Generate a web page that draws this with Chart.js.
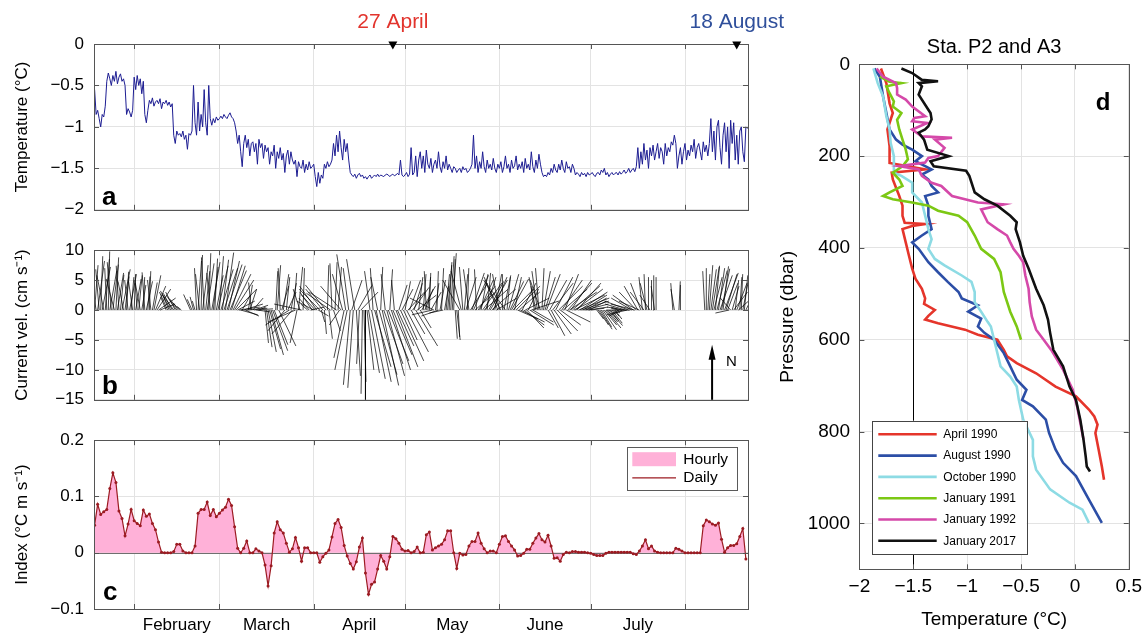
<!DOCTYPE html>
<html>
<head>
<meta charset="utf-8">
<title>Mooring record and hydrographic profiles</title>
<script src="https://cdn.jsdelivr.net/npm/chart.js@4.4.1/dist/chart.umd.min.js"></script>
<style>
  html, body { margin: 0; padding: 0; background: #fff; }
  #page { position: relative; width: 1148px; height: 635px; overflow: hidden; background: #fff; }
  canvas { position: absolute; }
</style>
</head>
<body>
<div id="page">
  <canvas id="tempChart" width="800" height="230" style="left:0;top:0"></canvas>
  <canvas id="currentChart" width="770" height="190" style="left:0;top:230px"></canvas>
  <canvas id="indexChart" width="770" height="215" style="left:0;top:420px"></canvas>
  <canvas id="profileChart" width="378" height="635" style="left:770px;top:0"></canvas>
</div>
<script>
const FONT = "'Liberation Sans', Arial, Helvetica, sans-serif";
const gridColor = '#e3e3e3';
const frameColor = '#555555';

// time axis: day of year (1 Jan = 0)
const dayMin = 17.8, dayMax = 232.7;
const monthStarts = [31, 59, 90, 120, 151, 181, 212];
const monthMids = [45, 74.5, 105, 135.5, 166, 196.5];
const monthNames = ['February', 'March', 'April', 'May', 'June', 'July'];

const eventDays = [116, 229];
const eventLabels = ['27 April', '18 August'];
const eventColors = ['#e2342d', '#2f4f9b'];

// panel a: temperature, every half day
const tempStartDay = 18, tempStepDays = 0.5;
const tempValues = [
  -0.55, -0.85, -0.8, -0.9, -1.0, -0.85, -0.88, -0.75,
  -0.45, -0.35, -0.42, -0.5, -0.38, -0.45, -0.33, -0.48, -0.4, -0.36, -0.45, -0.42, -0.5,
  -0.85, -0.78, -0.82, -0.88, -0.8,
  -0.4, -0.55, -0.38, -0.5, -0.42, -0.6, -0.45,
  -0.85, -0.95, -0.8,
  -0.68, -0.72, -0.65, -0.75, -0.7, -0.68, -0.72, -0.66, -0.78, -0.7, -0.72, -0.68, -0.74, -0.7, -0.76, -0.72,
  -1.1, -1.2, -1.05, -1.1, -1.08, -1.12, -1.05, -1.15, -1.1, -1.27, -1.08, -1.1, -1.05,
  -0.5, -0.95, -1.1, -0.7, -1.05, -0.85, -1.0, -0.55, -0.95, -1.1, -0.5, -0.9, -0.98,
  -0.9, -0.95, -0.88, -0.92, -0.9, -0.87, -0.9, -0.85, -0.88, -0.9, -0.86, -0.83, -0.88, -0.9, -0.95,
  -1.05, -1.2, -1.1, -1.3, -1.48, -1.2,
  -1.1, -1.25, -1.15, -1.35, -1.2, -1.18, -1.3, -1.2, -1.45, -1.15, -1.25, -1.2, -1.38, -1.22,
  -1.3, -1.25, -1.45, -1.3, -1.35, -1.22, -1.5, -1.3, -1.38, -1.25, -1.4, -1.32, -1.55, -1.35, -1.28, -1.45, -1.3, -1.4,
  -1.45, -1.4, -1.6, -1.42, -1.48, -1.5, -1.4, -1.55, -1.45, -1.52, -1.42, -1.5, -1.48, -1.45,
  -1.6, -1.72, -1.55, -1.68, -1.58, -1.62,
  -1.45, -1.5, -1.42, -1.48, -1.45, -1.4,
  -1.2, -1.35, -1.1, -1.3, -1.05, -1.25, -1.4, -1.15, -1.3, -1.2, -1.4,
  -1.55, -1.58, -1.6, -1.57, -1.62, -1.58, -1.56, -1.6, -1.58, -1.62, -1.6, -1.63, -1.6, -1.58, -1.62, -1.6, -1.58,
  -1.6, -1.57, -1.6, -1.58, -1.59, -1.6, -1.58, -1.57, -1.58, -1.6, -1.58, -1.57, -1.59, -1.58, -1.56, -1.58,
  -1.4, -1.58, -1.6, -1.58, -1.55, -1.6, -1.57,
  -1.25, -1.58, -1.55, -1.35, -1.6, -1.4,
  -1.3, -1.5, -1.35, -1.55, -1.28, -1.45, -1.5, -1.38, -1.55, -1.45, -1.4, -1.5, -1.3, -1.48, -1.55, -1.42, -1.5,
  -1.35, -1.52, -1.45, -1.5, -1.55, -1.48, -1.5, -1.55, -1.52,
  -1.5, -1.55, -1.48, -1.52, -1.5, -1.55, -1.53, -1.5, -1.45,
  -1.1,
  -1.5, -1.35, -1.55, -1.42, -1.5, -1.3, -1.48, -1.55, -1.4, -1.5, -1.45, -1.52, -1.38, -1.5, -1.55, -1.45, -1.5, -1.42,
  -1.55, -1.48, -1.35, -1.5, -1.45, -1.55, -1.4, -1.5, -1.47, -1.35, -1.52, -1.45, -1.5, -1.42, -1.55, -1.38, -1.5, -1.45,
  -1.52, -1.3, -1.48, -1.55, -1.4, -1.5, -1.33, -1.45, -1.55, -1.6, -1.58, -1.6, -1.55, -1.58, -1.5, -1.55, -1.45, -1.52,
  -1.55, -1.45, -1.52, -1.4, -1.5, -1.55, -1.42, -1.5, -1.48, -1.55, -1.45, -1.5, -1.58, -1.55, -1.57, -1.6,
  -1.55, -1.58, -1.56, -1.6, -1.55, -1.58, -1.57, -1.55, -1.58, -1.6, -1.56, -1.55, -1.58, -1.52, -1.55, -1.5,
  -1.58, -1.55, -1.6, -1.57, -1.55, -1.58, -1.56, -1.55, -1.58, -1.54, -1.57, -1.55, -1.52, -1.56, -1.54, -1.5,
  -1.55, -1.52, -1.5, -1.54, -1.48,
  -1.25, -1.5, -1.3, -1.45, -1.2, -1.4, -1.28, -1.5, -1.25, -1.35, -1.22, -1.4, -1.3, -1.2, -1.38, -1.25, -1.3, -1.45,
  -1.2, -1.35, -1.25, -1.3, -1.18, -1.22,
  -1.1, -1.2, -1.5,
  -1.35, -1.25, -1.45, -1.3, -1.2, -1.4, -1.28, -1.35, -1.22, -1.3, -1.15, -1.38, -1.25, -1.2, -1.3, -1.4, -1.18, -1.3,
  -1.22, -1.35, -1.2,
  -0.9, -1.3, -1.05, -1.4, -1.0, -0.92, -1.25, -1.45, -1.1, -0.95, -1.3, -1.0, -1.5, -0.92, -1.2, -0.95, -1.4, -1.1,
  -1.45, -1.05, -1.0, -1.3, -1.42, -1.0, -1.02
];

// panel b: current vectors (east u, north v; cm/s), every half day, null = no data
const stickStartDay = 18, stickStepDays = 0.5;
const stickU = [
  0.5, -0.8, 1.0, -0.5, 0.3, 1.2, -1.0, 0.6, -0.3, 0.2, 1.0, -0.6, 0.8, -1.2, 0.4, 0.9, -0.4, 0.5, 1.2, -0.8, 0.6, 0.3, -0.5, 1.0,
  0.4, -0.6, 0.2, 0.8, -0.3, 0.5, -0.8, 0.6, 0.2, -0.4, 0.9, 0.3, 0.2, -0.5, 0.7, 1.0, 1.5, 2.0, 2.5, 2.2,
  null, null, null,
  -0.8, -1.2, -1.0, -1.5, -1.3, -1.6, -1.4, -1.5, -1.2, -1.0, -0.6,
  null, null, null, null, null,
  -1.0, -0.7, -0.5, -0.4,
  -0.3, 0.5, -0.6, 0.2, 0.8, -0.4, 0.6, 1.0, 0.3, -0.5, 1.2, 0.7, 0.4, 1.0, 1.5, 0.6, 1.8, 0.9, 2.0, 1.2, 2.2, 1.6, 2.4, 2.0, 2.6, 2.8, 3.0,
  2.5, 3.0, 2.5, 1.2, 2.8, 2.0, 3.0, 0.6, 1.0, -0.4, 1.5, 2.0, 2.5, 1.8, 1.0,
  null, null, null,
  0.5, 0.8, 1.2, 1.6, 1.8, 2.2, 2.0, 0.3, 0.5, 2.5, -0.3, 1.0, 0.8, -2.5, 0.5, 1.2, -3.5, 0.8, -3.0, 0.4, -4.0, -1.0, 0.6, -1.0, -4.0, 0.2,
  null, null,
  -1.0, -1.5, 2.0, -1.8, -2.5, -2.0, -2.5, 1.5, -3.0, 0.5,
  -2.5, 0.3, -3.0, 0.2, 0.5, -3.5, -0.3, 1.0, 0.3, -4.0, 0.5, -1.5, -3.0,
  -1.5, -1.5, -1.3, -1.8, -0.8, -1.0, 1.5, -0.8, -1.2, 0.6, 2.0, -0.4, 2.5, -0.2, 0.3, 0.0, 1.0,
  1.6, -0.8, 2.0, -0.4, 2.4, 2.2, -1.0, 2.6, 0.3, 2.4, 2.8, -0.6, 2.6, 3.0, 0.4, 2.8, 2.8, -0.4, 3.2, 2.4,
  1.2, 3.4, 1.6, 2.0, 0.8, 3.2, 2.4, 1.6, 2.0, 2.4, 1.2, 3.2, 2.8, 0.6, 1.6, 2.0, 0.4, 1.2,
  -0.3, 0.4, 0.2, 1.5, -3.0, -3.5, 0.5, 0.2, -2.5, 0.8, 0.3, -2.0, 0.6, 0.5, 0.6, 0.4, 0.5, 0.6, 0.2, 0.3, 0.5, 0.2,
  -2.5, -1.5, -0.5, 0.5, 1.5, 0.2, -0.8, 2.5, 1.8, 2.2, 3.0, -0.3, 2.5, 2.0, 1.0, 2.8, 3.5, 1.5, 0.5, 2.2, 2.5, 3.5, 2.0, 1.0, 3.0,
  -2.0, -1.0, -2.5, 0.0, 1.0, -2.8, 0.5, 1.5, 2.0, 2.5, 3.0, 1.0, 3.5, 3.0, 3.0, 3.5, 2.0, 3.0, 3.5, 2.5,
  1.5, 3.5, 4.0, 3.0, -0.5, -1.0, -0.8, -0.5, -1.5,
  0.3, 1.0, 1.5, 2.0, 1.5, 2.5, 2.0, 3.0, 2.5, 2.5, 3.0, 3.5, 3.0, 3.0, 3.5, 2.0, 3.5, 3.5, 4.0, 3.0,
  4.0, 4.5, 4.0, 3.5, 4.5, 4.0, 4.0, 3.5, 3.5, 3.0, 3.0, 2.5, 2.0,
  null, null, null,
  1.0, 1.5, 1.8, 1.5, 2.0, 1.8, 2.2, 1.5, 2.0, 1.2, 1.5, 0.8, 1.0, 0.5,
  -1.0, -1.0, -1.5, -2.0, -2.5, -3.0, -3.0, -3.5, -3.5, -3.0, -3.0, -3.5, -2.5, -2.0, -3.0, -1.5, -0.5, -2.0, -0.2, -1.0,
  0.0, -1.5, 0.0, 0.1, -0.5, 0.0,
  null, null, null, null, null, null, null, null, null, null,
  -0.3, -0.5, null, null, 0.2, 0.0, null, null,
  null, null, null, null, null, null, null, null, null, null, null, null, null,
  -0.3, 0.0, 0.3, 0.5, 0.8, 1.0, 1.2, 0.6, 1.5, 0.9, 1.8, 1.2, 0.8, 2.0, 1.6, 1.5, -2.0, -1.5, 1.0, 2.0,
  0.5, 1.5, 2.5, 0.3, 0.2, 0.8, 0.5, 1.5, 2.0
];
const stickV = [
  7.5, 5.5, 8.2, 6.8, 9.0, 7.2, 5.8, 8.5, 7.0, 9.8, 6.5, 8.0, 7.6, 5.2, 8.8, 6.2, 7.4, 5.9, 6.8, 4.8, 5.6, 6.4, 5.0, 6.0,
  5.5, 4.8, 6.0, 5.2, 4.5, 5.8, 5.0, 4.2, 5.5, 6.3, 4.8, 5.6, 6.5, 5.0, 4.6, 5.8, 4.0, 3.5, 2.0, 1.0,
  null, null, null,
  2.2, 3.0, 2.6, 3.2, 2.8, 2.5, 3.0, 2.4, 1.8, 1.2, 0.6,
  null, null, null, null, null,
  2.6, 1.8, 2.2, 1.5,
  7.0, 8.2, 6.0, 9.2, 7.5, 8.8, 6.5, 7.8, 9.5, 6.2, 8.0, 7.2, 8.6, 5.8, 7.4, 9.0, 6.8, 8.4, 7.0, 9.6, 7.6, 8.2, 6.6, 7.4, 6.0, 5.0, 3.5,
  1.5, 0.5, -0.8, 2.5, 1.0, -1.0, 0.3, 4.2, 3.5, 4.6, 2.0, 0.8, 0.2, -0.3, 0.5,
  null, null, null,
  -5.5, -6.2, -7.0, -6.5, -7.5, -6.8, -5.8, 6.5, 7.5, -6.0, 7.0, 4.0, 6.0, -3.5, 5.5, 3.0, -2.5, 4.5, -4.0, 6.2, -2.0, -5.5, 7.2, 3.5, 1.0, 7.0,
  null, null,
  1.0, 2.0, 0.5, 3.0, 1.5, 2.5, 4.0, -1.0, 3.5, -2.0,
  3.5, -4.0, 4.2, 7.5, -4.8, 2.8, 7.8, -3.5, 8.0, 3.0, 7.2, -2.5, 4.0,
  6.0, -8.0, 9.3, -10.0, 7.0, -12.5, 5.0, -13.0, 8.5, -11.0, 4.0, -9.0, 3.0, -14.0, -12.0, -15.0, -10.0,
  -10.5, 6.5, -11.5, 7.0, -9.5, -12.0, 5.5, -10.8, 7.2, -12.6, -9.0, 6.0, -11.0, -8.5, 6.8, -10.0, -7.5, 5.0, -9.5, -6.0,
  4.2, -8.5, 3.5, -5.0, 4.8, -7.0, 3.0, 5.0, -4.0, 3.8, 4.5, -6.0, 2.5, 5.5, -3.0, 4.0, 6.0, 3.5,
  6.5, 5.5, 6.2, 3.0, -0.8, 2.0, 4.5, 6.5, -1.0, 5.0, 7.0, -0.5, 4.0, 6.0, 7.5, 8.0, 9.0, 9.5, 8.5, -4.8, -5.0, -4.5,
  5.0, 6.5, 7.2, 6.0, 5.5, 7.0, 6.8, 4.5, 6.2, 5.8, 3.0, 6.8, 4.0, 5.0, 6.0, 4.5, 3.5, 5.5, 6.2, 4.8, 5.0, 3.5, 5.5, 6.0, 2.0,
  5.5, 6.0, 5.0, 6.0, 5.8, 4.5, 5.5, 6.0, 4.8, 5.2, 3.5, 5.5, 4.0, -1.5, 3.0, -2.0, 4.5, -2.5, 2.0, -3.0,
  3.5, -2.5, 1.5, -2.0, 4.0, 5.5, 6.5, 7.0, 5.0,
  7.0, 6.5, 5.5, 6.0, -3.0, 5.0, -4.3, 4.5, -4.0, 5.5, -3.5, 4.0, -2.5, 5.0, 3.5, 6.0, -2.0, 4.5, 3.0, 5.0,
  4.0, 2.5, 3.5, 4.5, 2.0, 3.0, 1.5, 2.5, 1.0, 2.0, 0.5, 1.5, 0.3,
  null, null, null,
  -1.5, -2.5, -3.2, -2.8, -3.3, -2.5, -3.0, -2.0, -2.6, -1.8, -2.2, -1.0, -1.5, -0.5,
  0.3, -0.5, 0.5, -1.0, 0.5, 1.0, -0.8, 1.5, 0.0, 2.0, 2.5, 1.0, 3.0, 4.0, 1.5, 4.5, 5.5, 3.0, 6.0, 4.5,
  5.5, 2.5, 5.0, 5.8, 4.0, 5.5,
  null, null, null, null, null, null, null, null, null, null,
  4.5, 3.5, null, null, 4.8, 4.2, null, null,
  null, null, null, null, null, null, null, null, null, null, null, null, null,
  6.5, 7.0, 6.0, 7.5, 6.8, 7.2, 5.5, 7.4, 6.6, 7.0, 5.8, 6.9, 7.3, 6.2, 6.0, 4.5, -0.5, 2.0, 4.0, 3.0,
  5.0, 4.5, 2.5, 5.5, 6.0, 4.8, 5.8, 3.5, 2.0
];

// panel c: daily heat-transport index (°C m/s)
const indexStartDay = 18;
const indexDaily = [
  0.049, 0.086, 0.068, 0.073, 0.077, 0.114, 0.142, 0.125, 0.074, 0.061,
  0.030, 0.051, 0.077, 0.057, 0.052, 0.048, 0.076, 0.065, 0.069, 0.052,
  0.041, 0.019, 0.001, 0, 0, 0, 0.002, 0.015, 0.015, 0.003,
  0, 0, 0, 0.012, 0.070, 0.077, 0.077, 0.090, 0.066, 0.077,
  0.064, 0.070, 0.076, 0.081, 0.095, 0.084, 0.046, 0.008, 0, 0.008,
  0.021, 0, 0, 0.007, 0.003, 0, -0.022, -0.059, -0.023, 0.035,
  0.055, 0.041, 0.035, 0.017, 0.001, 0.007, 0.027, 0.009, -0.015, 0.009,
  0.009, 0, 0, 0, -0.017, -0.007, -0.001, 0.005, 0.028, 0.052,
  0.059, 0.045, 0.013, -0.006, -0.019, -0.029, -0.016, 0.010, 0.026, -0.036,
  -0.074, -0.056, -0.052, -0.029, -0.005, -0.015, -0.029, -0.007, 0.029, 0.025,
  0.017, 0.006, 0.003, 0.004, 0, 0.002, 0.010, 0, 0.001, 0.032,
  0.037, 0.005, 0.009, 0.012, 0.015, 0.023, 0.039, 0.039, 0, -0.028,
  -0.001, -0.004, -0.003, 0.012, 0.020, 0.020, 0.035, 0.017, 0.007, 0,
  0.003, 0.003, 0, 0.015, 0.029, 0.030, 0.020, 0.012, 0.005, -0.006,
  -0.005, -0.001, 0.006, 0.006, 0.017, 0.026, 0.034, 0.023, 0.019, 0.031,
  0.012, -0.010, -0.009, -0.015, -0.003, 0.001, 0, 0.002, 0.002, 0.001,
  0.001, 0.001, 0, -0.001, -0.003, -0.005, -0.005, -0.005, -0.001, 0.001,
  0.001, 0.001, 0.001, 0.001, 0.001, 0.001, 0.001, -0.002, -0.003, 0.003,
  0.012, 0.023, 0.007, 0.012, 0.003, 0.001, 0, 0, 0, 0,
  0, 0.008, 0.006, 0.003, 0, 0, 0, 0, 0, 0,
  0.048, 0.058, 0.055, 0.051, 0.049, 0.053, 0.024, 0.001, 0.009, 0.013,
  0.013, 0.016, 0.029, 0.043, -0.011
];

// panel d: CTD profiles (pressure dbar, temperature °C)
const profileNames = ['April 1990', 'August 1990', 'October 1990', 'January 1991', 'January 1992', 'January 2017'];
const profileColors = ['#e5352b', '#2c4ea6', '#8ddbe4', '#7cc814', '#d549a9', '#111111'];
const pApr1990 = [9, 41, 85, 106, 142, 178, 215, 222, 229, 236, 251, 287, 308, 330, 345, 348, 352, 359, 388, 417,
  445, 467, 489, 510, 522, 535, 548, 556, 564, 578, 589, 600, 622, 636, 651, 673, 702, 723, 752, 767, 785, 803, 839, 876, 905];
const tApr1990 = [-1.80, -1.75, -1.72, -1.69, -1.74, -1.72, -1.72, -1.55, -1.39, -1.70, -1.69, -1.63, -1.60, -1.60, -1.58, -1.39, -1.51, -1.60, -1.57, -1.54,
  -1.51, -1.48, -1.42, -1.39, -1.40, -1.30, -1.36, -1.39, -1.27, -1.02, -0.90, -0.72, -0.66, -0.63, -0.54, -0.36, -0.18, 0.01, 0.13, 0.18, 0.21, 0.19, 0.22, 0.25, 0.27];
const pAug1990 = [9, 27, 70, 106, 142, 164, 175, 186, 200, 211, 222, 229, 240, 251, 265, 279, 287, 308, 330, 359,
  373, 388, 402, 431, 453, 474, 496, 510, 525, 539, 554, 571, 585, 600, 629, 658, 687, 709, 731, 745, 774, 803, 839, 868, 897, 948, 999];
const tAug1990 = [-1.86, -1.81, -1.78, -1.75, -1.72, -1.66, -1.60, -1.51, -1.42, -1.48, -1.39, -1.33, -1.42, -1.36, -1.33, -1.27, -1.39, -1.36, -1.36, -1.33,
  -1.42, -1.51, -1.45, -1.36, -1.27, -1.18, -1.08, -1.05, -0.90, -0.99, -0.87, -0.90, -0.84, -0.75, -0.66, -0.60, -0.54, -0.45, -0.49, -0.39, -0.27, -0.24, -0.18, -0.11, 0.01, 0.13, 0.25];
const pOct1990 = [9, 41, 70, 113, 142, 171, 200, 236, 243, 258, 279, 301, 330, 359, 381, 402, 424, 438, 460, 474,
  496, 518, 539, 561, 571, 600, 629, 658, 680, 702, 731, 774, 818, 854, 883, 926, 955, 970, 999];
const tOct1990 = [-1.87, -1.83, -1.78, -1.75, -1.72, -1.71, -1.68, -1.68, -1.61, -1.51, -1.51, -1.42, -1.39, -1.36, -1.33, -1.36, -1.30, -1.21, -1.05, -0.96,
  -0.93, -0.93, -0.87, -0.81, -0.78, -0.75, -0.72, -0.69, -0.60, -0.54, -0.52, -0.48, -0.39, -0.39, -0.36, -0.23, -0.05, 0.07, 0.13];
const pJan1991 = [27, 38, 41, 48, 63, 81, 92, 106, 121, 142, 164, 186, 207, 222, 236, 251, 265, 279, 287, 294,
  301, 308, 319, 330, 344, 373, 402, 424, 453, 496, 539, 571, 600];
const tJan1991 = [-1.81, -1.72, -1.61, -1.75, -1.72, -1.68, -1.69, -1.61, -1.65, -1.63, -1.60, -1.57, -1.55, -1.60, -1.69, -1.63, -1.60, -1.72, -1.78, -1.69,
  -1.51, -1.36, -1.27, -1.08, -1.00, -0.93, -0.87, -0.75, -0.69, -0.66, -0.60, -0.54, -0.50];
const pJan1992 = [9, 27, 41, 52, 66, 77, 92, 113, 117, 124, 128, 142, 157, 160, 164, 182, 200, 204, 214, 222,
  229, 243, 258, 265, 287, 301, 305, 316, 344, 359, 373, 388, 402, 417, 431, 460, 489, 518, 549, 578, 600, 622, 665, 709, 745, 781, 818];
const tJan1992 = [-1.84, -1.78, -1.66, -1.65, -1.65, -1.57, -1.51, -1.39, -1.49, -1.51, -1.37, -1.51, -1.42, -1.14, -1.30, -1.21, -1.27, -1.36, -1.39, -1.63,
  -1.45, -1.42, -1.33, -1.24, -1.14, -0.90, -0.66, -0.87, -0.81, -0.72, -0.63, -0.60, -0.57, -0.52, -0.48, -0.46, -0.43, -0.42, -0.40, -0.36, -0.29, -0.22, -0.11, -0.02, 0.02, 0.05, 0.08];
const pJan2017 = [9, 19, 34, 37, 41, 48, 66, 99, 106, 120, 135, 142, 149, 164, 186, 200, 211, 222, 232, 243,
  279, 294, 308, 330, 344, 359, 388, 417, 445, 489, 525, 556, 585, 622, 658, 702, 731, 774, 818, 854, 876, 887];
const tJan2017 = [-1.61, -1.51, -1.42, -1.27, -1.45, -1.42, -1.45, -1.36, -1.34, -1.33, -1.36, -1.39, -1.45, -1.40, -1.37, -1.17, -1.34, -1.31, -1.01, -0.98,
  -0.93, -0.84, -0.72, -0.60, -0.54, -0.55, -0.51, -0.48, -0.43, -0.36, -0.29, -0.25, -0.23, -0.20, -0.11, -0.05, 0.01, 0.05, 0.08, 0.10, 0.11, 0.14];
const profilePressures = [pApr1990, pAug1990, pOct1990, pJan1991, pJan1992, pJan2017];
const profileTemps = [tApr1990, tAug1990, tOct1990, tJan1991, tJan1992, tJan2017];

const freezingTemp = -1.5;
const profileTempTicks = [-2, -1.5, -1, -0.5, 0, 0.5];
const pressureTicks = [0, 200, 400, 600, 800, 1000];

// ---------- helpers ----------
const fmt = v => String(Math.round(v * 1000) / 1000).replace('-', '\u2212');
const fixTicks = list => scale => { scale.ticks = list.map(v => ({ value: v })); };
const font17 = { family: FONT, size: 17 };

function timeAxis(showLabels) {
  const list = showLabels ? monthStarts.concat(monthMids).sort((a, b) => a - b) : monthStarts;
  return {
    type: 'linear', min: dayMin, max: dayMax,
    afterBuildTicks: fixTicks(list),
    afterFit: s => { s.height = showLabels ? 26 : 0; },
    grid: { color: c => (c.tick && monthStarts.includes(c.tick.value)) ? gridColor : 'rgba(0,0,0,0)', drawTicks: false },
    border: { display: false },
    ticks: {
      display: showLabels, autoSkip: false, maxRotation: 0, padding: 6, color: '#000', font: font17,
      callback: v => { const i = monthMids.indexOf(v); return i >= 0 ? monthNames[i] : ''; }
    }
  };
}

function valueAxis(min, max, list, title) {
  return {
    type: 'linear', min, max,
    afterBuildTicks: fixTicks(list),
    afterFit: s => { s.width = 94; },
    grid: { color: gridColor, drawTicks: false },
    border: { display: false },
    ticks: { padding: 10, color: '#000', font: font17, callback: v => fmt(v) },
    title: { display: true, text: title, color: '#000', font: font17, padding: { top: 12, bottom: 0 } }
  };
}

const framePlugin = {
  id: 'frame',
  afterDraw(chart, args, opts) {
    const { ctx, chartArea: a, scales: { x, y } } = chart;
    ctx.save();
    ctx.strokeStyle = frameColor;
    ctx.lineWidth = 1;
    ctx.beginPath();
    (opts.xTicks || []).forEach(v => {
      const px = Math.round(x.getPixelForValue(v)) + 0.5;
      ctx.moveTo(px, a.bottom); ctx.lineTo(px, a.bottom - 5);
      ctx.moveTo(px, a.top); ctx.lineTo(px, a.top + 5);
    });
    (opts.yTicks || []).forEach(v => {
      const py = Math.round(y.getPixelForValue(v)) + 0.5;
      ctx.moveTo(a.left, py); ctx.lineTo(a.left + 5, py);
      ctx.moveTo(a.right, py); ctx.lineTo(a.right - 5, py);
    });
    ctx.stroke();
    const l = Math.round(a.left), t = Math.round(a.top), r = Math.round(a.right), b = Math.round(a.bottom);
    ctx.strokeRect(l + 0.5, t + 0.5, r - l, b - t);
    if (opts.letter) {
      const L = opts.letter;
      ctx.fillStyle = '#000';
      ctx.font = 'bold ' + L.size + 'px ' + FONT;
      ctx.textAlign = 'left';
      ctx.textBaseline = 'alphabetic';
      ctx.fillText(L.text, L.right ? a.right - L.dx : a.left + L.dx, L.top ? a.top + L.dy : a.bottom - L.dy);
    }
    ctx.restore();
  }
};

const baseOptions = (padding) => ({
  responsive: false, animation: false, events: [], devicePixelRatio: 1,
  layout: { padding, autoPadding: false },
  plugins: { legend: { display: false }, tooltip: { enabled: false } }
});

// ---------- panel a ----------
const eventPlugin = {
  id: 'events',
  afterDraw(chart) {
    const { ctx, chartArea: a, scales: { x } } = chart;
    ctx.save();
    eventDays.forEach((d, i) => {
      const px = x.getPixelForValue(d);
      ctx.fillStyle = '#000';
      ctx.beginPath();
      ctx.moveTo(px - 4.5, a.top - 2.5);
      ctx.lineTo(px + 4.5, a.top - 2.5);
      ctx.lineTo(px, a.top + 5.5);
      ctx.closePath();
      ctx.fill();
      ctx.fillStyle = eventColors[i];
      ctx.font = '21px ' + FONT;
      ctx.textAlign = 'center';
      ctx.textBaseline = 'middle';
      ctx.fillText(eventLabels[i], px, 22);
    });
    ctx.restore();
  }
};

new Chart(document.getElementById('tempChart'), {
  type: 'line',
  data: {
    datasets: [{
      data: tempValues.map((v, i) => ({ x: tempStartDay + i * tempStepDays, y: v })),
      borderColor: '#1d1d92', borderWidth: 1, pointRadius: 0, tension: 0
    }]
  },
  options: Object.assign(baseOptions({ top: 44, right: 52, bottom: 14, left: 0 }), {
    scales: { x: timeAxis(false), y: valueAxis(-2, 0, [0, -0.5, -1, -1.5, -2], 'Temperature (°C)') }
  }),
  plugins: [framePlugin, eventPlugin]
});
Chart.getChart('tempChart').options.plugins.frame = { xTicks: monthStarts, yTicks: [-0.5, -1, -1.5], letter: { text: 'a', size: 26, dx: 8, dy: 5 } };
Chart.getChart('tempChart').update();

// ---------- panel b ----------
const daysPerCms = 2.25;   // keeps the sticks isotropic on screen
const stickGroups = 6;
const stickSets = Array.from({ length: stickGroups }, () => []);
stickV.forEach((v, i) => {
  if (v === null) return;
  const t = stickStartDay + i * stickStepDays;
  stickSets[i % stickGroups].push({ x: t, y: 0 }, { x: t + stickU[i] * daysPerCms, y: v }, { x: t, y: null });
});

const northArrow = { day: 220.9, from: -15, to: -5.8 };
const arrowPlugin = {
  id: 'north',
  afterDatasetsDraw(chart) {
    const { ctx, scales: { x, y } } = chart;
    const px = x.getPixelForValue(northArrow.day);
    const y0 = y.getPixelForValue(northArrow.from), y1 = y.getPixelForValue(northArrow.to);
    ctx.save();
    ctx.strokeStyle = '#000'; ctx.fillStyle = '#000'; ctx.lineWidth = 2;
    ctx.beginPath(); ctx.moveTo(px, y0); ctx.lineTo(px, y1 + 10); ctx.stroke();
    ctx.beginPath(); ctx.moveTo(px, y1); ctx.lineTo(px - 3.5, y1 + 15); ctx.lineTo(px + 3.5, y1 + 15); ctx.closePath(); ctx.fill();
    ctx.font = '15px ' + FONT; ctx.textAlign = 'left'; ctx.textBaseline = 'middle';
    ctx.fillText('N', px + 14, y1 + 17);
    ctx.restore();
  }
};

new Chart(document.getElementById('currentChart'), {
  type: 'line',
  data: {
    datasets: stickSets.map(pts => ({
      data: pts, borderColor: 'rgba(0,0,0,0.72)', borderWidth: 1, pointRadius: 0, tension: 0, spanGaps: false
    }))
  },
  options: Object.assign(baseOptions({ top: 11.7, right: 22, bottom: 7.3, left: 0 }), {
    scales: { x: timeAxis(false), y: valueAxis(-15, 10, [10, 5, 0, -5, -10, -15], 'Current vel. (cm s\u207B\u00B9)') }
  }),
  plugins: [framePlugin, arrowPlugin]
});
Chart.getChart('currentChart').options.plugins.frame = { xTicks: monthStarts, yTicks: [5, 0, -5, -10], letter: { text: 'b', size: 26, dx: 8, dy: 6 } };
Chart.getChart('currentChart').update();

// ---------- panel c ----------
const indexPoints = indexDaily.map((v, i) => ({ x: indexStartDay + i, y: v }));
const hourlyColor = '#ffb1d8', dailyColor = '#9c1b22';

const zeroLinePlugin = {
  id: 'zeroLine',
  afterDatasetDraw(chart, args) {
    if (args.index !== 1) return;
    const { ctx, chartArea: a, scales: { y } } = chart;
    const py = Math.round(y.getPixelForValue(0)) + 0.5;
    ctx.save(); ctx.strokeStyle = '#6f6f6f'; ctx.lineWidth = 1;
    ctx.beginPath(); ctx.moveTo(a.left, py); ctx.lineTo(a.right, py); ctx.stroke();
    ctx.restore();
  }
};
const indexLegendPlugin = {
  id: 'indexLegend',
  afterDraw(chart) {
    const { ctx, chartArea: a } = chart;
    const x0 = a.right - 121.3, y0 = a.top + 7;
    ctx.save();
    ctx.fillStyle = '#fff'; ctx.fillRect(x0, y0, 110, 43);
    ctx.strokeStyle = '#5a5a5a'; ctx.lineWidth = 1; ctx.strokeRect(Math.round(x0) + 0.5, Math.round(y0) + 0.5, 110, 43);
    ctx.fillStyle = hourlyColor; ctx.fillRect(x0 + 5.6, y0 + 5, 43.7, 14);
    ctx.strokeStyle = dailyColor; ctx.lineWidth = 1.2;
    ctx.beginPath(); ctx.moveTo(x0 + 5.6, y0 + 30.7); ctx.lineTo(x0 + 49.3, y0 + 30.7); ctx.stroke();
    ctx.fillStyle = '#000'; ctx.font = '15.5px ' + FONT; ctx.textAlign = 'left'; ctx.textBaseline = 'middle';
    ctx.fillText('Hourly', x0 + 56.6, y0 + 12.5);
    ctx.fillText('Daily', x0 + 56.6, y0 + 31);
    ctx.restore();
  }
};

new Chart(document.getElementById('indexChart'), {
  type: 'line',
  data: {
    datasets: [
      { label: 'Daily', data: indexPoints, borderColor: dailyColor, borderWidth: 1.2, pointRadius: 1.5,
        pointBackgroundColor: dailyColor, pointBorderWidth: 0, tension: 0, fill: false, order: 0 },
      { label: 'Hourly', data: indexPoints, borderWidth: 0, borderColor: 'rgba(0,0,0,0)', pointRadius: 0,
        backgroundColor: hourlyColor, fill: 'origin', tension: 0, order: 1 }
    ]
  },
  options: Object.assign(baseOptions({ top: 17.3, right: 22, bottom: 0, left: 0 }), {
    scales: { x: timeAxis(true), y: valueAxis(-0.1, 0.2, [0.2, 0.1, 0, -0.1], 'Index (°C m s\u207B\u00B9)') }
  }),
  plugins: [zeroLinePlugin, framePlugin, indexLegendPlugin]
});
Chart.getChart('indexChart').options.plugins.frame = { xTicks: monthStarts, yTicks: [0.1, 0], letter: { text: 'c', size: 26, dx: 9, dy: 9 } };
Chart.getChart('indexChart').update();

// ---------- panel d ----------
const font19 = { family: FONT, size: 19 };
const profileDecorPlugin = {
  id: 'profileDecor',
  beforeDatasetsDraw(chart) {
    const { ctx, chartArea: a, scales: { x } } = chart;
    const px = Math.round(x.getPixelForValue(freezingTemp)) + 0.5;
    ctx.save(); ctx.strokeStyle = '#000'; ctx.lineWidth = 1;
    ctx.beginPath(); ctx.moveTo(px, a.top); ctx.lineTo(px, a.bottom); ctx.stroke();
    ctx.restore();
  },
  afterDraw(chart) {
    const { ctx, chartArea: a } = chart;
    ctx.save();
    ctx.fillStyle = '#000'; ctx.font = '20px ' + FONT; ctx.textAlign = 'center'; ctx.textBaseline = 'middle';
    ctx.fillText('Sta. P2 and A3', (a.left + a.right) / 2, 47);
    // legend
    const x0 = a.left + 12.3, y0 = a.top + 356.4;
    ctx.fillStyle = '#fff'; ctx.fillRect(x0, y0, 155, 133.3);
    ctx.strokeStyle = '#444'; ctx.lineWidth = 1; ctx.strokeRect(Math.round(x0) + 0.5, Math.round(y0) + 0.5, 155, 133);
    ctx.font = '12px ' + FONT; ctx.textAlign = 'left';
    profileNames.forEach((name, i) => {
      const ry = y0 + 13.6 + i * 21.3;
      ctx.strokeStyle = profileColors[i]; ctx.lineWidth = 2.6;
      ctx.beginPath(); ctx.moveTo(x0 + 6.6, ry); ctx.lineTo(x0 + 65, ry); ctx.stroke();
      ctx.fillStyle = '#000'; ctx.fillText(name, x0 + 71.6, ry + 0.5);
    });
    ctx.restore();
  }
};

new Chart(document.getElementById('profileChart'), {
  type: 'line',
  data: {
    datasets: profileNames.map((name, i) => ({
      label: name,
      data: profilePressures[i].map((p, j) => ({ x: profileTemps[i][j], y: p })),
      borderColor: profileColors[i], borderWidth: 2.6, pointRadius: 0, tension: 0,
      order: profileNames.length - i
    }))
  },
  options: Object.assign(baseOptions({ top: 64.3, right: 14, bottom: 0, left: 0 }), {
    scales: {
      x: {
        type: 'linear', min: -2, max: 0.5,
        afterBuildTicks: fixTicks(profileTempTicks),
        afterFit: s => { s.height = 65.7; },
        grid: { color: gridColor, drawTicks: false }, border: { display: false },
        ticks: { padding: 6, color: '#000', font: font19, autoSkip: false, maxRotation: 0, callback: v => fmt(v) },
        title: { display: true, text: 'Temperature (°C)', color: '#000', font: font19, padding: { top: 0, bottom: 4 } }
      },
      y: {
        type: 'linear', reverse: true, min: 0, max: 1100,
        afterBuildTicks: fixTicks(pressureTicks),
        afterFit: s => { s.width = 89.4; },
        grid: { color: gridColor, drawTicks: false }, border: { display: false },
        ticks: { padding: 9.4, color: '#000', font: font19, callback: v => fmt(v) },
        title: { display: true, text: 'Pressure (dbar)', color: '#000', font: font19, padding: { top: 6, bottom: 0 } }
      }
    }
  }),
  plugins: [profileDecorPlugin, framePlugin]
});
Chart.getChart('profileChart').options.plugins.frame = { xTicks: [-1.5, -1, -0.5, 0], yTicks: [200, 400, 600, 800, 1000], letter: { text: 'd', size: 24, dx: 33, dy: 46, right: true, top: true } };
Chart.getChart('profileChart').update();
</script>
</body>
</html>
